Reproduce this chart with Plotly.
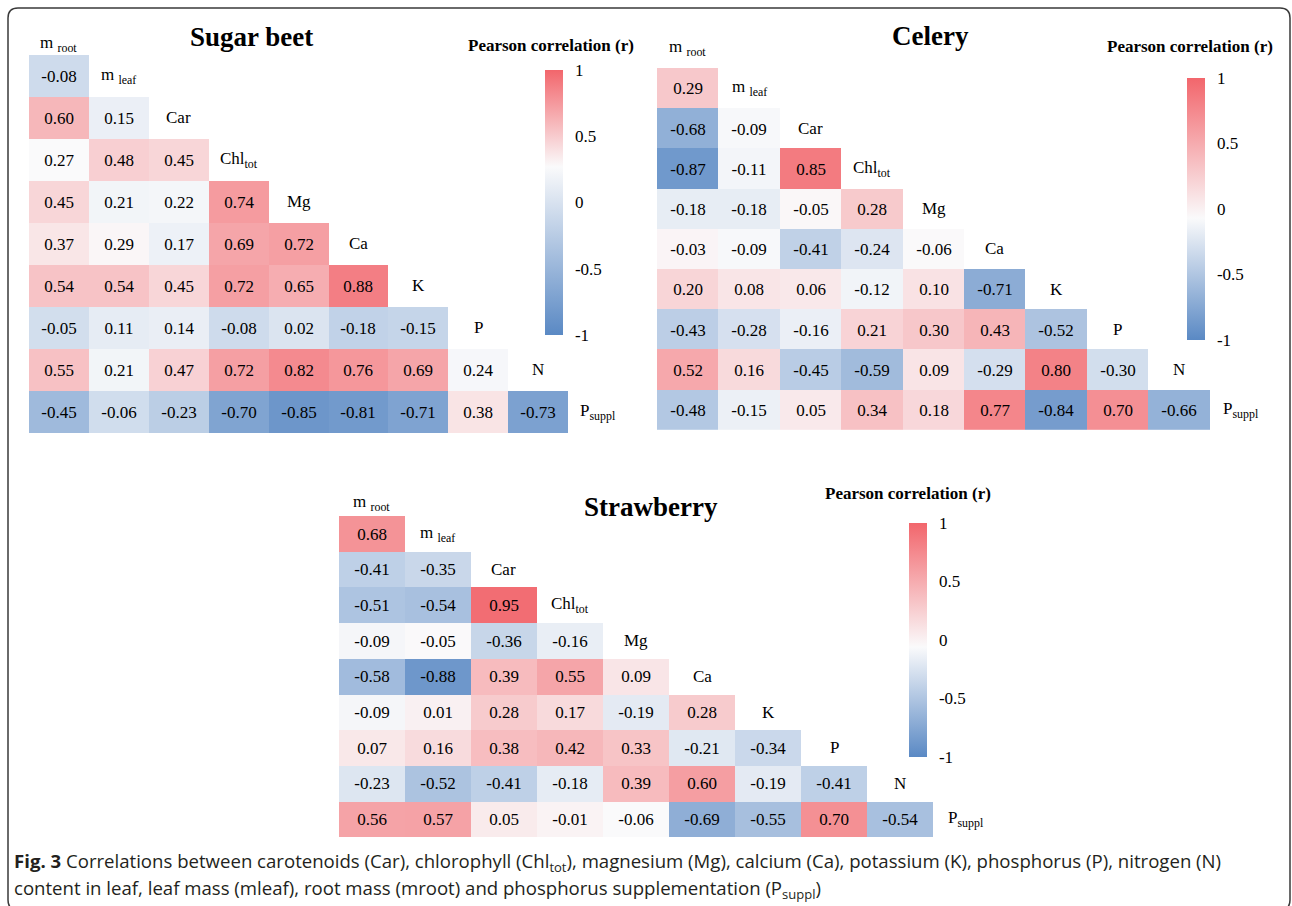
import plotly.graph_objects as go

W, H = 1292, 906

# ---------------- data ----------------
variables = ["m <sub>root</sub>", "m <sub>leaf</sub>", "Car", "Chl<sub>tot</sub>", "Mg",
             "Ca", "K", "P", "N", "P<sub>suppl</sub>"]

sugar_beet = [
    [-0.08],
    [0.60, 0.15],
    [0.27, 0.48, 0.45],
    [0.45, 0.21, 0.22, 0.74],
    [0.37, 0.29, 0.17, 0.69, 0.72],
    [0.54, 0.54, 0.45, 0.72, 0.65, 0.88],
    [-0.05, 0.11, 0.14, -0.08, 0.02, -0.18, -0.15],
    [0.55, 0.21, 0.47, 0.72, 0.82, 0.76, 0.69, 0.24],
    [-0.45, -0.06, -0.23, -0.70, -0.85, -0.81, -0.71, 0.38, -0.73],
]

celery = [
    [0.29],
    [-0.68, -0.09],
    [-0.87, -0.11, 0.85],
    [-0.18, -0.18, -0.05, 0.28],
    [-0.03, -0.09, -0.41, -0.24, -0.06],
    [0.20, 0.08, 0.06, -0.12, 0.10, -0.71],
    [-0.43, -0.28, -0.16, 0.21, 0.30, 0.43, -0.52],
    [0.52, 0.16, -0.45, -0.59, 0.09, -0.29, 0.80, -0.30],
    [-0.48, -0.15, 0.05, 0.34, 0.18, 0.77, -0.84, 0.70, -0.66],
]

strawberry = [
    [0.68],
    [-0.41, -0.35],
    [-0.51, -0.54, 0.95],
    [-0.09, -0.05, -0.36, -0.16],
    [-0.58, -0.88, 0.39, 0.55, 0.09],
    [-0.09, 0.01, 0.28, 0.17, -0.19, 0.28],
    [0.07, 0.16, 0.38, 0.42, 0.33, -0.21, -0.34],
    [-0.23, -0.52, -0.41, -0.18, 0.39, 0.60, -0.19, -0.41],
    [0.56, 0.57, 0.05, -0.01, -0.06, -0.69, -0.55, 0.70, -0.54],
]

cbar_tickvals = [-1, -0.5, 0, 0.5, 1]
cbar_ticktext = ["-1", "-0.5", "0", "0.5", "1"]

caption_1 = ("<b>Fig. 3</b> Correlations between carotenoids (Car), chlorophyll (Chl<sub>tot</sub>), "
             "magnesium (Mg), calcium (Ca), potassium (K), phosphorus (P), nitrogen (N)")
caption_2 = ("content in leaf, leaf mass (mleaf), root mass (mroot) and phosphorus "
             "supplementation (P<sub>suppl</sub>)")

# ---------------- styling / layout ----------------
SERIF = "Liberation Serif, Times New Roman, serif"
BLUE = "rgb(90,137,196)"
WHITE = "rgb(250,250,251)"
RED = "rgb(242,102,108)"

panels = [
    dict(name="Sugar beet", data=sugar_beet, white=0.27,
         grid=(29, 568, 55, 433), title=(251, 37), pc=(551, 45),
         cbar=(545, 70, 335), root_dy=10),
    dict(name="Celery", data=celery, white=-0.07,
         grid=(657, 1210, 68, 430), title=(930, 36), pc=(1190, 46),
         cbar=(1187, 78, 340), root_dy=0),
    dict(name="Strawberry", data=strawberry, white=-0.06,
         grid=(339, 933, 516, 837), title=(651, 507), pc=(908, 493),
         cbar=(909, 523, 757), root_dy=5),
]

fig = go.Figure()
annotations = []
n = len(variables)

for i, p in enumerate(panels, start=1):
    x0, x1, y0, y1 = p["grid"]
    cw = (x1 - x0) / (n - 1)
    rh = (y1 - y0) / (n - 1)
    xd = [x0 / W, (x0 + n * cw) / W]
    yd = [1 - y1 / H, 1 - (y0 - rh) / H]

    z = [[None] * n for _ in range(n)]
    txt = [[""] * n for _ in range(n)]
    for r, row in enumerate(p["data"], start=1):
        for c, v in enumerate(row):
            z[r][c] = v
            txt[r][c] = f"{v:.2f}"

    wpos = (p["white"] + 1) / 2
    cx, cy0, cy1 = p["cbar"]
    ax = "" if i == 1 else str(i)
    fig.add_trace(go.Heatmap(
        z=z, text=txt, texttemplate="%{text}",
        textfont=dict(family=SERIF, size=17, color="black"),
        x=list(range(n)), y=list(range(n)),
        zmin=-1, zmax=1,
        colorscale=[[0, BLUE], [wpos, WHITE], [1, RED]],
        xaxis="x" + ax, yaxis="y" + ax,
        hoverinfo="skip",
        colorbar=dict(
            x=cx / W, xanchor="left", xpad=0, ypad=0,
            y=1 - (cy0 + cy1) / 2 / H, yanchor="middle",
            len=cy1 - cy0, lenmode="pixels",
            thickness=18, thicknessmode="pixels",
            outlinewidth=0,
            tickvals=cbar_tickvals, ticktext=cbar_ticktext,
            ticks="outside", ticklen=9, tickcolor="rgba(0,0,0,0)",
            tickfont=dict(family=SERIF, size=17, color="black"),
        ),
    ))
    axis_common = dict(visible=False, showgrid=False, zeroline=False)
    fig.update_layout(**{
        "xaxis" + ax: dict(domain=xd, range=[-0.5, n - 0.5], anchor="y" + ax, **axis_common),
        "yaxis" + ax: dict(domain=yd, range=[n - 0.5, -0.5], anchor="x" + ax, **axis_common),
    })

    for k, lab in enumerate(variables):
        annotations.append(dict(
            x=k, y=k, xref="x" + ax, yref="y" + ax, text=lab, showarrow=False,
            yshift=-p["root_dy"] if k == 0 else 0,
            font=dict(family=SERIF, size=17, color="black")))

    annotations.append(dict(
        x=p["title"][0] / W, y=1 - p["title"][1] / H, xref="paper", yref="paper",
        text="<b>" + p["name"] + "</b>", showarrow=False,
        xanchor="center", yanchor="middle",
        font=dict(family=SERIF, size=27, color="black")))
    annotations.append(dict(
        x=p["pc"][0] / W, y=1 - p["pc"][1] / H, xref="paper", yref="paper",
        text="<b>Pearson correlation (r)</b>", showarrow=False,
        xanchor="center", yanchor="middle",
        font=dict(family=SERIF, size=17, color="black")))

for txt_line, yy in [(caption_1, 862), (caption_2, 889)]:
    annotations.append(dict(
        x=12 / W, y=1 - yy / H, xref="paper", yref="paper", text=txt_line,
        showarrow=False, xanchor="left", yanchor="middle",
        font=dict(family="Open Sans, sans-serif", size=18.6, color="#231f20")))

# rounded frame (bottom edge falls just below the page)
xl, xr = 8 / W, 1290 / W
yt, yb = 1 - 8 / H, 1 - 910 / H
rx, ry = 10 / W, 10 / H
frame = (f"M {xl},{yb + ry} L {xl},{yt - ry} Q {xl},{yt} {xl + rx},{yt} "
         f"L {xr - rx},{yt} Q {xr},{yt} {xr},{yt - ry} L {xr},{yb + ry} "
         f"Q {xr},{yb} {xr - rx},{yb} L {xl + rx},{yb} Q {xl},{yb} {xl},{yb + ry} Z")

fig.update_layout(
    width=W, height=H,
    margin=dict(l=0, r=0, t=0, b=0),
    paper_bgcolor="white", plot_bgcolor="white",
    showlegend=False,
    annotations=annotations,
    shapes=[dict(type="path", path=frame, xref="paper", yref="paper",
                 line=dict(color="#3a3a3a", width=1.5), layer="below")],
)

fig.write_html("out.html", config={"displayModeBar": False},
               post_script="document.body.style.margin='0px';")
